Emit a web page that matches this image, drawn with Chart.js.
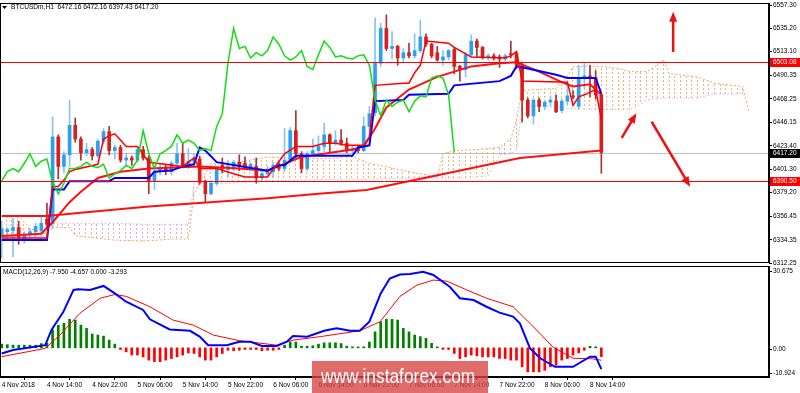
<!DOCTYPE html>
<html lang="en">
<head>
<meta charset="UTF-8">
<title>BTCUSDm H1</title>
<script src="https://cdn.jsdelivr.net/npm/chart.js"></script>
<style>
  body { margin: 0; background: #fff; width: 800px; height: 393px; overflow: hidden; position: relative; font-family: "Liberation Sans", Arial, sans-serif; }
  #main { position: absolute; left: 0; top: 0; }
  #macd { position: absolute; left: 0; top: 264px; }
  .logo { position: absolute; left: 312px; top: 361px; width: 176px; height: 32px; background: rgba(216, 70, 70, 0.8); overflow: hidden; }
  .logo span { position: absolute; left: 9px; top: 4px; color: #fff; font-size: 19.5px; line-height: 22px; transform: scaleX(0.89); transform-origin: left top; white-space: nowrap; }
</style>
</head>
<body>
<canvas id="main" width="800" height="265"></canvas>
<canvas id="macd" width="800" height="129"></canvas>
<div class="logo"><span>www.instaforex.com</span></div>
<script>
// hourly candles, bar 0 = 4 Nov 06:00
const opens = [6338,6342,6343,6346,6335,6339,6342,6343,6354,6350,
  6432,6404,6415,6443,6430,6417,6420,6414,6428,6437,
  6419,6422,6410,6412,6410,6420,6412,6390,6399,6402,
  6399,6407,6416,6404,6409,6411,6389,6378,6388,6405,
  6401,6402,6408,6407,6403,6404,6393,6397,6399,6405,
  6402,6410,6438,6416,6402,6416,6419,6423,6434,6426,
  6429,6426,6419,6421,6419,6442,6455,6502,6535,6516,
  6518,6507,6512,6509,6514,6527,6520,6512,6505,6508,
  6515,6499,6496,6510,6523,6517,6508,6509,6508,6506,
  6511,6511,6500,6467,6452,6467,6461,6465,6466,6457,
  6466,6471,6461,6488,6490,6488,6472.16];
const highs = [6352,6346,6355,6352,6342,6345,6350,6356,6369,6451,
  6434,6418,6467,6450,6432,6426,6422,6430,6440,6442,
  6424,6424,6416,6414,6422,6423,6414,6404,6406,6406,
  6409,6426,6427,6421,6416,6414,6391,6390,6404,6412,
  6410,6410,6415,6413,6408,6412,6400,6404,6408,6408,
  6440,6441,6457,6418,6418,6430,6433,6445,6435,6438,
  6439,6431,6424,6423,6451,6461,6545,6540,6548,6532,
  6519,6516,6521,6530,6543,6530,6521,6518,6514,6515,
  6517,6500,6512,6529,6525,6518,6511,6511,6510,6511,
  6523,6513,6502,6469,6468,6469,6467,6471,6472,6468,
  6480,6476,6500,6502,6500,6495,6472.16];
const lows = [6317,6334,6318,6330,6331,6335,6338,6340,6346,6345,
  6392,6398,6404,6427,6410,6414,6410,6412,6425,6415,
  6411,6408,6405,6405,6408,6410,6378,6382,6396,6396,
  6396,6404,6403,6402,6405,6387,6370,6377,6386,6398,
  6394,6400,6400,6401,6400,6388,6390,6395,6394,6400,
  6399,6408,6412,6398,6400,6414,6416,6418,6418,6424,
  6424,6417,6417,6417,6418,6438,6452,6499,6514,6506,
  6500,6502,6507,6507,6512,6518,6507,6504,6500,6505,
  6492,6485,6489,6508,6508,6506,6505,6505,6498,6504,
  6507,6497,6446,6450,6444,6456,6458,6461,6455,6455,
  6463,6468,6458,6478,6470,6468,6397.43];
const closes = [6345,6344,6346,6337,6339,6342,6347,6350,6349,6432,
  6404,6415,6443,6430,6417,6420,6414,6428,6437,6419,
  6422,6410,6412,6410,6420,6412,6390,6399,6402,6399,
  6407,6416,6404,6409,6411,6389,6378,6388,6402,6402,
  6404,6408,6404,6403,6406,6393,6397,6400,6405,6402,
  6410,6438,6416,6402,6416,6419,6423,6434,6426,6429,
  6426,6419,6421,6419,6442,6454,6502,6535,6516,6518,
  6507,6512,6509,6514,6527,6520,6509,6505,6508,6514,
  6499,6496,6510,6523,6517,6508,6509,6507,6506,6509,
  6510,6500,6467,6452,6467,6461,6465,6467,6456,6466,
  6471,6470,6488,6490,6488,6472,6417.2];

// indicator lines as [bar, value] pairs
const tenkan = [[0,6336],[8,6336],[9,6385],[10,6385],[11,6391],[12,6399],[13,6401],[17,6406],[18,6430],[19,6433],[20,6435],[21,6429],[22,6423],[24,6423],[26,6408],[32,6404],[34,6412],[35,6402],[38,6402],[41,6397],[43,6394],[47,6394],[50,6416],[52,6423],[55,6423],[57,6426],[59,6426],[61,6424],[64,6424],[65,6432],[66,6481],[71,6483],[72,6483],[73,6493],[74,6500],[75,6523],[79,6521],[80,6517],[83,6508],[89,6507],[90,6509],[91,6513],[92,6485],[100,6484],[101,6462],[102,6470],[103,6472],[105,6477],[106,6449]];
const kijun = [[0,6334],[8,6334],[9,6382],[11,6382],[12,6390],[19,6390],[20,6393],[26,6393],[27,6399],[30,6400],[32,6404],[34,6406],[35,6422],[36,6419],[38,6408],[47,6400],[49,6405],[50,6405],[52,6414],[62,6414],[63,6422],[65,6424],[66,6466],[71,6467],[72,6472],[79,6473],[80,6481],[88,6485],[90,6490],[91,6499],[93,6497],[98,6491],[100,6488],[105,6488],[106,6473]];
const maSlow = [[0,6357],[8,6357],[14,6360],[26,6366],[47,6373.7],[56,6378],[64.5,6381.6],[73,6391],[80,6399],[88,6408],[91.6,6412],[106,6419]];
const maMid = [[0,6338],[7,6340],[9,6351],[12,6370],[14,6380],[17,6393],[21,6399],[26,6402],[35,6404],[42,6402],[47,6400],[53,6413],[62,6420],[64,6423],[66,6440],[68,6460],[72,6477],[77,6489],[83,6499],[88,6502],[91,6503],[95,6494],[99,6484],[101,6480],[104,6482],[106,6472]];

const cloudBars = [0,3,5,7,8,9,12,13,20,25,30,33,34,35,37,40,43,47,53,60,61,65,71,77,78,80,84,86,88,90,91,92,94,98,100,101,106,109,111,112,114,115,117,118,123,126,129,131,132];
const spanA = [6356,6357,6345,6341,6340,6346,6346,6338,6334,6333,6335,6335,6378,6388,6407,6405,6409,6413,6411,6412,6416,6407,6400,6394,6416,6419,6420,6421,6422,6430,6448,6476,6477,6478,6490,6499,6499,6497,6494,6494,6494,6497,6505,6492,6489,6483,6481,6480,6457];
const spanB = [6337,6337,6337,6337,6350,6350,6350,6350,6350,6349,6349,6349,6388,6388,6388,6388,6389,6390,6391,6392,6392,6392,6393,6393,6393,6393,6394,6395,6415,6416,6420,6459,6461,6460,6459,6459,6458,6458,6458,6460,6467,6468,6469,6469,6469,6473,6473,6473,6473];

// MACD(12,26,9)
const macdLine = [[0,-2.1],[2,-0.8],[7.7,1.0],[8.8,6.7],[10.9,13.5],[12.7,21.7],[13.5,22],[15.6,21.7],[18,23.2],[20,20.4],[22,17.3],[25,14.2],[26.2,10.7],[29.7,6.9],[33.3,6.4],[35,4.2],[36.5,1.0],[39.8,1.0],[42,2.3],[44,2.3],[46,0.7],[48.6,0.7],[50.4,2.3],[51.5,4.4],[54,4.2],[57,6.4],[59.2,7.3],[61.6,6.4],[63.3,6.4],[65,9.8],[67,20.4],[68.6,26],[70.4,27.5],[72.2,27.7],[74.5,28.5],[76.3,27.3],[79.2,22.9],[81,18.6],[83.4,17.9],[85.7,15.4],[88,13.2],[90.4,11.7],[91.6,9.2],[93.4,-0.2],[95.2,-3.9],[97.8,-7.1],[101,-7.1],[104,-3.3],[105,-3.3],[106,-7.95]];
const signalLine = [[0,-3.3],[7.7,-0.2],[10.3,4.8],[13.8,12.9],[17.4,18.6],[20,20],[22,19.3],[26.2,15.4],[30.3,10.4],[33.9,8.5],[37.4,4.8],[42,2.7],[48.6,1.0],[51.5,2.9],[56.3,4.2],[63.3,6.4],[66.9,9.8],[70.4,19.3],[73.4,23.5],[76.3,25.4],[78.7,25],[82.2,21.7],[85.7,18.6],[90.4,15.4],[94,7.9],[97.5,0.2],[101,-3.9],[104.5,-4.1],[106,-4.657]];
const histogram = [1.4,1.2,1.0,1.0,1.0,1.0,1.0,1.6,1.8,
  6.7,8.5,9.2,10.7,10.4,8.5,7.3,5.2,4.8,4.4,2.9,1.4,
  -0.6,-1.5,-2.7,-2.7,-3.4,-4.6,-5.2,-5.2,-4.6,-4.0,-3.4,-2.7,-1.9,-2.1,-3.4,-4.6,-4.6,-3.4,-2.1,-0.9,-1.1,-0.9,-0.6,-0.6,-0.6,-1.1,-0.9,-0.9,-0.6,
  1.0,2.2,2.2,0.6,0.6,0.8,1.4,1.9,1.9,1.9,1.6,0.6,0.1,0.1,0.4,2.2,6.0,9.8,10.7,10.7,10.4,7.3,6.0,4.8,4.2,3.6,1.7,0.1,
  -0.6,-0.6,-2.1,-4.0,-3.4,-2.7,-3.0,-3.4,-3.4,-3.4,-4.0,-4.0,-4.6,-4.6,-7.1,-9.0,-9.0,-9.0,-8.4,-7.1,-6.5,-4.6,-4.0,-2.7,-1.9,-0.9,
  0.6,0.1,-3.293];

const priceTicks = [6312.25,6334.35,6356.45,6379.20,6401.30,6423.40,6446.15,6468.25,6490.35,6513.10,6535.20,6557.30];
const macdTicks = [30.675, 0, -10.924];
const xTickBars = [0,8,16,24,32,40,48,56,64,72,80,88,96,104];
const xTickLabels = ['4 Nov 2018','4 Nov 14:00','4 Nov 22:00','5 Nov 06:00','5 Nov 14:00','5 Nov 22:00','6 Nov 06:00','6 Nov 14:00','6 Nov 22:00','7 Nov 06:00','7 Nov 14:00','7 Nov 22:00','8 Nov 06:00','8 Nov 14:00'];
const redLevels = [6503.08, 6390.50];
const bidLevel = 6417.20;
// arrows: [fromBar, fromPrice, toBar, toPrice]
const arrows = [[118.7,6512.7,118.7,6551],[109.6,6431,112.2,6454.5],[114.9,6446.4,121.7,6384.7]];
const titleText = 'BTCUSDm,H1  6472.16 6472.16 6397.43 6417.20';
const macdText = 'MACD(12,26,9) -7.950 -4.657 0.000 -3.293';

const FONT = "'Liberation Sans', Arial, sans-serif";
const X_MIN = -0.3, X_MAX = 135.64;
Chart.defaults.font.family = FONT;

function pts(arr) { return arr.map(p => ({ x: p[0], y: p[1] })); }

const mainCtx = document.getElementById('main').getContext('2d');
function hatch(color) {
  const c = document.createElement('canvas');
  c.width = 17; c.height = 4;
  const g = c.getContext('2d');
  g.fillStyle = color;
  [0, 6, 11].forEach(x => g.fillRect(x, 0, 1, 2));
  return mainCtx.createPattern(c, 'repeat');
}

const up = closes.map((c, i) => c >= opens[i]);
const wicks = highs.map((h, i) => ({ x: i, y: [lows[i], h] }));
const bodies = opens.map((o, i) => ({ x: i, y: [o, closes[i]] }));
const chikou = closes.slice(26).map((c, i) => ({ x: i, y: c }));

function lineSet(data, color, width, order, extra) {
  return Object.assign({ type: 'line', data: data, borderColor: color, borderWidth: width,
    pointRadius: 0, tension: 0, fill: false, order: order }, extra || {});
}

function arrow(ctx, x1, y1, x2, y2) {
  const a = Math.atan2(y2 - y1, x2 - x1), hl = 10, hw = 4;
  ctx.beginPath();
  ctx.moveTo(x1, y1);
  ctx.lineTo(x2 - Math.cos(a) * hl * 0.7, y2 - Math.sin(a) * hl * 0.7);
  ctx.stroke();
  ctx.beginPath();
  ctx.moveTo(x2, y2);
  ctx.lineTo(x2 - hl * Math.cos(a) + hw * Math.sin(a), y2 - hl * Math.sin(a) - hw * Math.cos(a));
  ctx.lineTo(x2 - hl * Math.cos(a) - hw * Math.sin(a), y2 - hl * Math.sin(a) + hw * Math.cos(a));
  ctx.closePath();
  ctx.fill();
}

function priceBox(ctx, py, text, bg, right) {
  ctx.fillStyle = bg;
  ctx.fillRect(right + 1, Math.round(py) - 4, 31, 9);
  ctx.fillStyle = '#fff';
  ctx.textBaseline = 'middle';
  ctx.fillText(text, right + 4, Math.round(py) + 0.5);
}

const mainOverlay = {
  id: 'mainOverlay',
  beforeDatasetsDraw(chart) {
    const { ctx, chartArea: a, scales: { y } } = chart;
    ctx.save();
    ctx.strokeStyle = '#c0c0c0';
    ctx.lineWidth = 1;
    const py = Math.round(y.getPixelForValue(bidLevel)) + 0.5;
    ctx.beginPath(); ctx.moveTo(a.left, py); ctx.lineTo(a.right, py); ctx.stroke();
    ctx.restore();
  },
  afterDatasetsDraw(chart) {
    const { ctx, chartArea: a, scales: { x, y } } = chart;
    ctx.save();
    ctx.strokeStyle = '#ff0000';
    ctx.lineWidth = 1;
    redLevels.forEach(v => {
      const py = Math.round(y.getPixelForValue(v)) + 0.5;
      ctx.beginPath(); ctx.moveTo(a.left, py); ctx.lineTo(a.right, py); ctx.stroke();
    });
    ctx.strokeStyle = '#ee1111';
    ctx.fillStyle = '#ee1111';
    ctx.lineWidth = 2.5;
    arrows.forEach(r => arrow(ctx, x.getPixelForValue(r[0]), y.getPixelForValue(r[1]),
      x.getPixelForValue(r[2]), y.getPixelForValue(r[3])));
    ctx.restore();
  },
  afterDraw(chart) {
    const { ctx, chartArea: a, scales: { y } } = chart;
    ctx.save();
    ctx.strokeStyle = '#000';
    ctx.lineWidth = 1;
    ctx.strokeRect(a.left + 0.5, a.top + 0.5, a.width - 1, a.height - 1);
    ctx.font = '6.5px ' + FONT;
    redLevels.forEach(v => priceBox(ctx, y.getPixelForValue(v), v.toFixed(2), '#ff0000', a.right));
    priceBox(ctx, y.getPixelForValue(bidLevel), bidLevel.toFixed(2), '#000', a.right);
    // symbol header
    ctx.fillStyle = '#000';
    ctx.beginPath(); ctx.moveTo(2, a.top + 3); ctx.lineTo(7, a.top + 3); ctx.lineTo(4.5, a.top + 6); ctx.closePath(); ctx.fill();
    ctx.font = '6.6px ' + FONT;
    ctx.textBaseline = 'middle';
    ctx.fillText(titleText, 11, a.top + 4.5);
    ctx.restore();
  }
};

new Chart(mainCtx, {
  type: 'bar',
  data: {
    datasets: [
      lineSet(pts(cloudBars.map((b, i) => [b, spanA[i]])), '#f4a460', 1, 20,
        { borderDash: [2, 2], fill: { target: '+1', above: hatch('rgba(244,164,96,0.85)'), below: hatch('rgba(205,170,215,0.9)') } }),
      lineSet(pts(cloudBars.map((b, i) => [b, spanB[i]])), '#d8bfd8', 1, 20, { borderDash: [2, 2] }),
      { type: 'bar', data: wicks, backgroundColor: up.map(u => u ? '#86c4f4' : '#a83434'),
        barThickness: 1, grouped: false, order: 15 },
      { type: 'bar', data: bodies, backgroundColor: up.map(u => u ? '#2b9ff2' : '#d81f1f'),
        barThickness: 3, grouped: false, minBarLength: 1, order: 14 },
      lineSet(pts(maSlow), '#ff1010', 2, 6),
      lineSet(pts(maMid), '#ff1010', 2, 5),
      lineSet(pts(kijun), '#0000ff', 2, 4),
      lineSet(pts(tenkan), '#ff0000', 1.5, 3),
      lineSet(chikou, '#11dd11', 1.5, 2)
    ]
  },
  options: {
    responsive: false,
    animation: false,
    events: [],
    layout: { padding: { top: 3, bottom: 2, left: 0, right: 0 } },
    plugins: { legend: { display: false }, tooltip: { enabled: false } },
    scales: {
      x: { type: 'linear', min: X_MIN, max: X_MAX, display: false, offset: false },
      y: {
        type: 'linear', position: 'right', min: 6312.25, max: 6559.2,
        afterBuildTicks: s => { s.ticks = priceTicks.map(v => ({ value: v })); },
        afterFit: s => { s.width = 31; s.paddingTop = 0; s.paddingBottom = 0; },
        ticks: { font: { size: 6.5 }, color: '#000', padding: 1, callback: v => v.toFixed(2) },
        grid: { drawOnChartArea: false, tickLength: 3, color: '#000' },
        border: { display: true, color: '#000' }
      }
    }
  },
  plugins: [mainOverlay]
});

const macdOverlay = {
  id: 'macdOverlay',
  afterDraw(chart) {
    const { ctx, chartArea: a, scales: { y } } = chart;
    ctx.save();
    ctx.strokeStyle = '#000';
    ctx.lineWidth = 1;
    ctx.strokeRect(a.left + 0.5, a.top + 0.5, a.width - 1, a.height - 1);
    ctx.fillStyle = '#000';
    ctx.font = '6.5px ' + FONT;
    ctx.textBaseline = 'middle';
    ctx.fillText(macdText, 3, a.top + 6);
    const ys = [a.top + 5, y.getPixelForValue(0) + 1, a.bottom - 4];
    macdTicks.forEach((v, i) => {
      const py = Math.round(ys[i]) + 0.5;
      ctx.beginPath(); ctx.moveTo(a.right, py); ctx.lineTo(a.right + 3, py); ctx.stroke();
      ctx.fillText(v === 0 ? '0.00' : v.toFixed(3), a.right + 4, py);
    });
    ctx.restore();
  }
};

new Chart(document.getElementById('macd'), {
  type: 'bar',
  data: {
    datasets: [
      lineSet(pts(macdLine), '#0000ff', 2, 1),
      lineSet(pts(signalLine), '#ff0000', 1, 2),
      { type: 'bar', data: histogram.map((v, i) => ({ x: i, y: v })),
        backgroundColor: histogram.map(v => v >= 0 ? '#008000' : '#ff0000'),
        barThickness: 2, minBarLength: 1, grouped: false, order: 3 }
    ]
  },
  options: {
    responsive: false,
    animation: false,
    events: [],
    layout: { padding: { top: 2, bottom: 0, left: 0, right: 0 } },
    plugins: { legend: { display: false }, tooltip: { enabled: false } },
    scales: {
      x: {
        type: 'linear', min: X_MIN, max: X_MAX, offset: false,
        afterBuildTicks: s => { s.ticks = xTickBars.map(v => ({ value: v })); },
        afterFit: s => { s.height = 16; s.paddingLeft = 0; s.paddingRight = 0; },
        ticks: { align: 'start', maxRotation: 0, autoSkip: false, padding: 1, font: { size: 6.5 }, color: '#000',
          callback: v => xTickLabels[xTickBars.indexOf(v)] },
        grid: { drawOnChartArea: false, tickLength: 3, color: '#000' },
        border: { display: true, color: '#000' }
      },
      y: {
        type: 'linear', position: 'right', min: -10.924, max: 30.675,
        afterFit: s => { s.width = 31; s.paddingTop = 0; s.paddingBottom = 0; },
        ticks: { display: false },
        grid: { display: false },
        border: { display: true, color: '#000' }
      }
    }
  },
  plugins: [macdOverlay]
});
</script>
</body>
</html>
